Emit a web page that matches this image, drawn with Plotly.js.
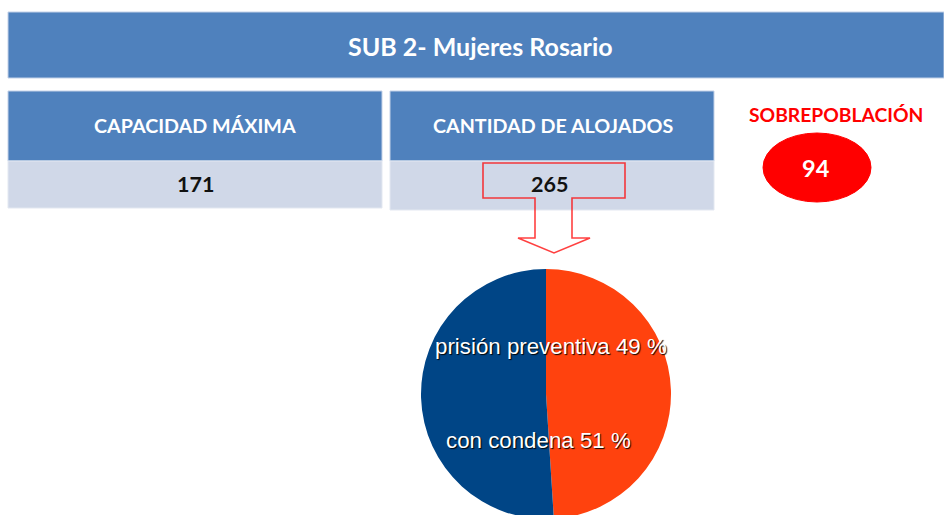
<!DOCTYPE html>
<html>
<head>
<meta charset="utf-8">
<script src="https://cdn.plot.ly/plotly-3.0.1.min.js"></script>
<style>
html,body{margin:0;padding:0;overflow:hidden;background:#fff;}
#chart{width:944px;height:530px;}
</style>
</head>
<body>
<div id="chart"></div>
<script>
// ---- data ----
const titleText = "SUB 2- Mujeres Rosario";
const tableHeaders = ["CAPACIDAD MÁXIMA", "CANTIDAD DE ALOJADOS"];
const tableValues = [171, 265];
const overLabel = "SOBREPOBLACIÓN";
const pieLabels = ["prisión preventiva", "con condena"];
const pieValues = [49, 51];
const pieColors = ["#ff420e", "#004586"];

// ---- layout helpers (pixel space) ----
const W = 944, H = 530;
const headBlue = "#4f81bd", rowBlue = "#d0d8e8", edge = "#c3d1e8";
const overpop = tableValues[1] - tableValues[0];

const boxes = [[8, 382], [390, 714]];
const shapes = [];
const ann = [];

// title band
shapes.push({type:"rect", xref:"x", yref:"y", x0:8, x1:944, y0:12, y1:78,
  fillcolor:headBlue, line:{color:edge, width:1}, layer:"below"});
ann.push({xref:"x", yref:"y", x:480, y:46, text:"<b>"+titleText+"</b>", showarrow:false,
  font:{family:"Lato", size:25, color:"#ffffff"}});

// table boxes
tableHeaders.forEach((h, i) => {
  const [a, b] = boxes[i];
  const bottom = i === 0 ? 208 : 210;
  shapes.push({type:"rect", xref:"x", yref:"y", x0:a, x1:b, y0:91, y1:161,
    fillcolor:headBlue, line:{color:edge, width:1}, layer:"below"});
  shapes.push({type:"rect", xref:"x", yref:"y", x0:a, x1:b, y0:161, y1:bottom,
    fillcolor:rowBlue, line:{color:"#e3e8f1", width:1}, layer:"below"});
  ann.push({xref:"x", yref:"y", x:(a+b)/2 + (i===1? 1:0), y:125, text:"<b>"+h+"</b>", showarrow:false,
    font:{family:"Lato", size:19.7, color:"#ffffff"}});
  ann.push({xref:"x", yref:"y", x:(a+b)/2 + (i===1? -3:0), y:184, text:"<b>"+tableValues[i]+"</b>", showarrow:false,
    font:{family:"Lato", size:21.5, color:"#111111"}});
});

// arrow callout
shapes.push({type:"path", xref:"x", yref:"y",
  path:"M 483 163 L 625 163 L 625 198 L 572 198 L 572 238 L 590 238 L 554 253 L 518 238 L 535 238 L 535 198 L 483 198 Z",
  line:{color:"rgba(255,0,0,0.75)", width:1.6}, fillcolor:"rgba(0,0,0,0)", layer:"above"});

// overpopulation
ann.push({xref:"x", yref:"y", x:836, y:114, text:"<b>"+overLabel+"</b>", showarrow:false,
  font:{family:"Lato", size:19.3, color:"#ff0000"}});
shapes.push({type:"circle", xref:"x", yref:"y", x0:763, x1:871, y0:133, y1:202,
  fillcolor:"#ff0000", line:{color:"#ff0000", width:1}, layer:"below"});
ann.push({xref:"x", yref:"y", x:816, y:168, text:"<b>"+overpop+"</b>", showarrow:false,
  font:{family:"Lato", size:23.5, color:"#ffffff"}});

// pie labels
const labelPos = [[551, 346], [538, 440]];
pieLabels.forEach((l, i) => {
  ann.push({xref:"x", yref:"y", x:labelPos[i][0], y:labelPos[i][1],
    text:l+" "+pieValues[i]+" %", showarrow:false,
    font:{family:"Liberation Sans", size:22.3, color:"#ffffff", shadow:"1px 1px 1px rgba(0,0,0,0.95)"}});
});

const data = [
  {type:"scatter", x:[], y:[], hoverinfo:"skip", showlegend:false},
  {type:"pie", labels:pieLabels, values:pieValues, sort:false, direction:"clockwise", rotation:0,
   marker:{colors:pieColors, line:{width:0}}, textinfo:"none", hoverinfo:"label+percent",
   showlegend:false,
   domain:{x:[421/W, 671/W], y:[(H-519)/H, (H-269)/H]}}
];

const layout = {
  width:W, height:H, margin:{l:0, r:0, t:0, b:0},
  paper_bgcolor:"#ffffff", plot_bgcolor:"rgba(0,0,0,0)",
  xaxis:{range:[0, W], visible:false, fixedrange:true},
  yaxis:{range:[H, 0], visible:false, fixedrange:true},
  shapes:shapes, annotations:ann, showlegend:false
};

Plotly.newPlot("chart", data, layout, {displayModeBar:false, staticPlot:true});
</script>
</body>
</html>
